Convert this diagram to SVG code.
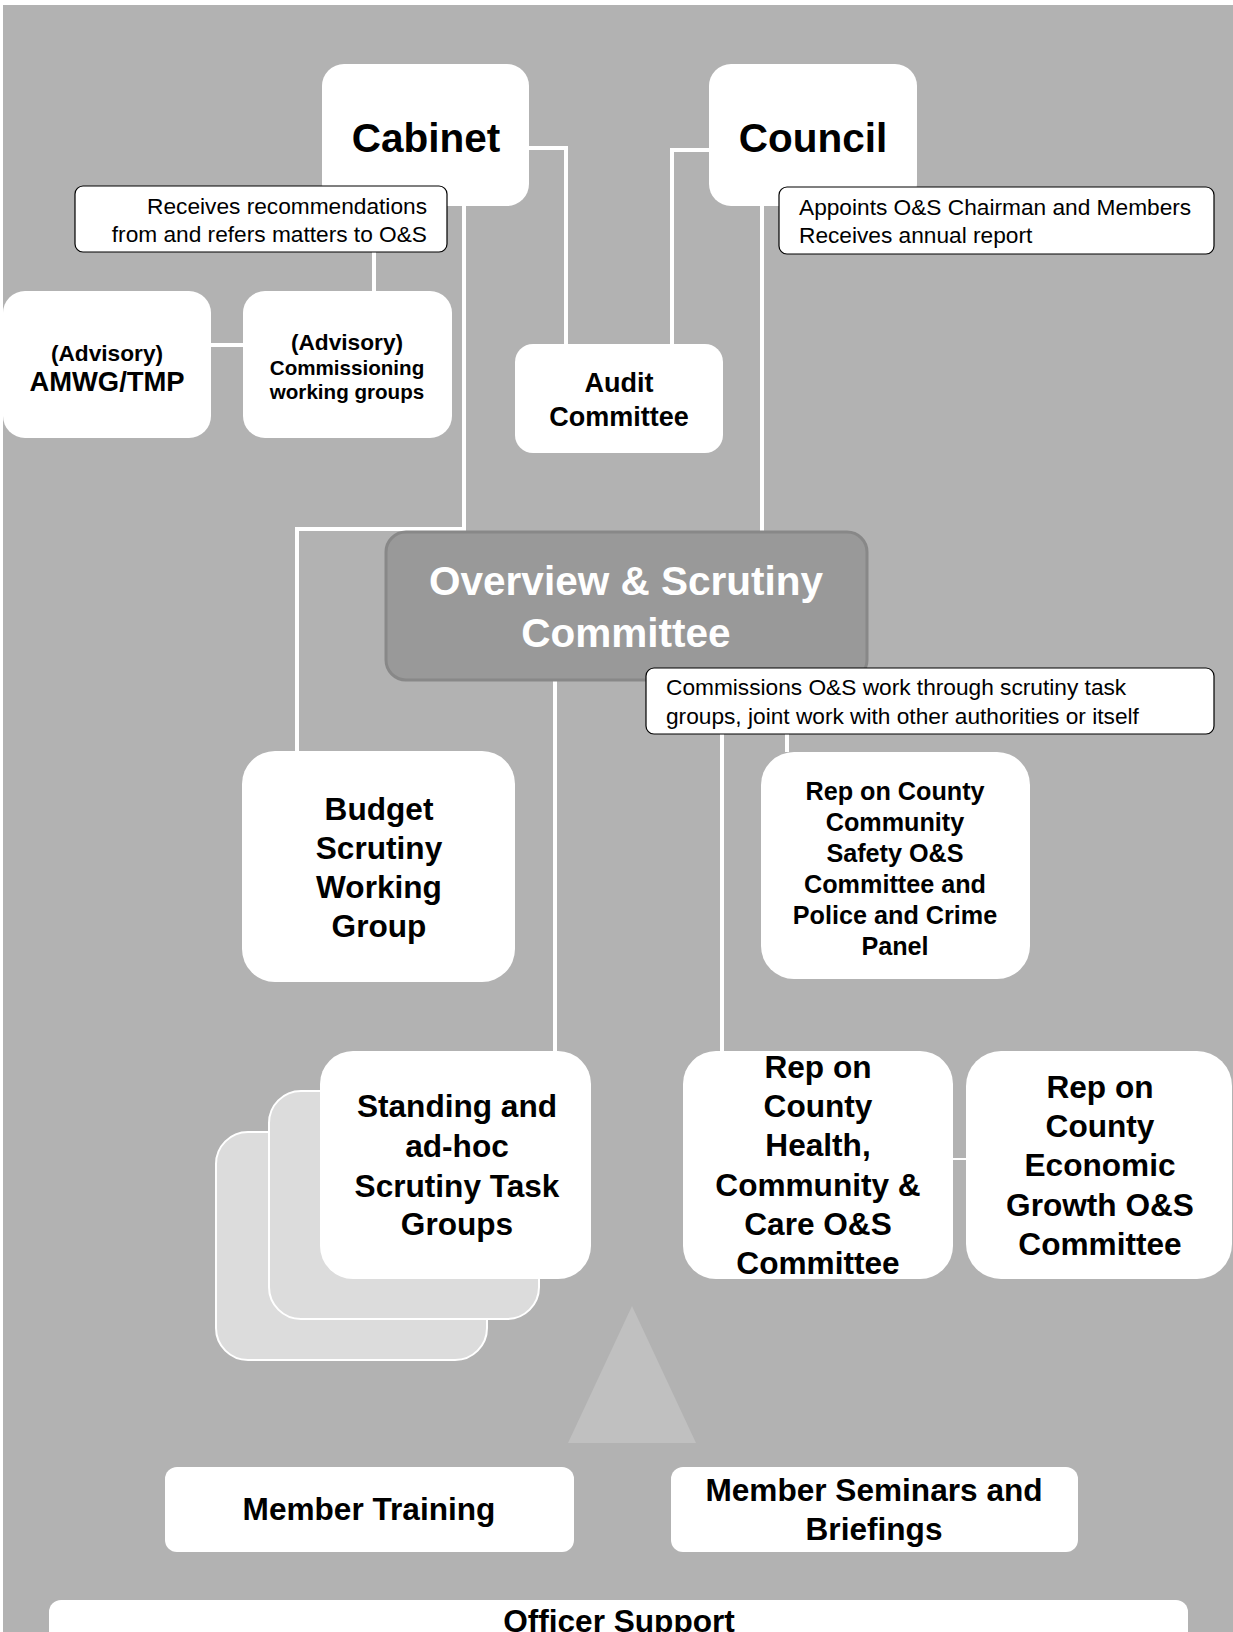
<svg xmlns="http://www.w3.org/2000/svg" width="1233" height="1632" viewBox="0 0 1233 1632">
<defs>
<style>
.bg{fill:#b2b2b2}
.box{fill:#fff}
.t{font-family:"Liberation Sans",Arial,sans-serif;font-weight:bold;fill:#000;text-anchor:middle}
.c{font-family:"Liberation Sans",Arial,sans-serif;font-size:22.7px;fill:#000}
.call{fill:#fff;stroke:#000;stroke-width:1.2}
.conn path{fill:none;stroke:#fff;stroke-width:4}
.card{fill:#dcdcdc;stroke:#fff;stroke-width:2}
</style>
</defs>
<rect width="1233" height="1632" fill="#fff"/>
<rect class="bg" x="3" y="5" width="1230" height="1627"/>
<polygon id="triangle" points="632,1306 696,1443 568,1443" fill="#c0c0c0"/>
<g id="connectors" class="conn">
<path d="M464,206 V529 H297 V751"/>
<path d="M529,148 H566 V344"/>
<path d="M709,150 H672 V344"/>
<path d="M762,206 V532"/>
<path d="M374,252 V291"/>
<path d="M211,345 H243"/>
<path d="M555,680 V1051"/>
<path d="M722,734 V1051"/>
<path d="M787,734 V752"/>
<path d="M953,1159 H966" style="stroke-width:2"/>
</g>
<g id="cabinet">
<rect class="box" x="322" y="64" width="207" height="142" rx="22"/>
<text class="t" x="426" y="152" font-size="40.5">Cabinet</text>
</g>
<g id="council">
<rect class="box" x="709" y="64" width="208" height="142" rx="22"/>
<text class="t" x="813" y="152" font-size="40.5">Council</text>
</g>
<g id="amwg">
<rect class="box" x="3" y="291" width="208" height="147" rx="22"/>
<text class="t" x="107" y="361" font-size="22.7">(Advisory)</text>
<text class="t" x="107" y="391" font-size="27.4">AMWG/TMP</text>
</g>
<g id="commissioning">
<rect class="box" x="243" y="291" width="209" height="147" rx="22"/>
<text class="t" x="347" y="350" font-size="22.7">(Advisory)</text>
<text class="t" x="347" y="375" font-size="20.6">Commissioning</text>
<text class="t" x="347" y="399" font-size="20.6">working groups</text>
</g>
<g id="audit">
<rect class="box" x="515" y="344" width="208" height="109" rx="18"/>
<text class="t" x="619" y="392" font-size="27">Audit</text>
<text class="t" x="619" y="426" font-size="27">Committee</text>
</g>
<g id="os">
<rect x="386" y="532" width="481" height="148" rx="20" fill="#999" stroke="#888" stroke-width="3"/>
<text class="t" x="626" y="595" font-size="40.5" style="fill:#fff">Overview &amp; Scrutiny</text>
<text class="t" x="626" y="647" font-size="40.5" style="fill:#fff">Committee</text>
</g>
<g id="budget">
<rect class="box" x="242" y="751" width="273" height="231" rx="33"/>
<text class="t" x="379" y="820" font-size="31.6">Budget</text>
<text class="t" x="379" y="859" font-size="31.6">Scrutiny</text>
<text class="t" x="379" y="898" font-size="31.6">Working</text>
<text class="t" x="379" y="937" font-size="31.6">Group</text>
</g>
<g id="safety">
<rect class="box" x="761" y="752" width="269" height="227" rx="33"/>
<text class="t" x="895" y="800" font-size="25.2">Rep on County</text>
<text class="t" x="895" y="831" font-size="25.2">Community</text>
<text class="t" x="895" y="862" font-size="25.2">Safety O&amp;S</text>
<text class="t" x="895" y="893" font-size="25.2">Committee and</text>
<text class="t" x="895" y="924" font-size="25.2">Police and Crime</text>
<text class="t" x="895" y="955" font-size="25.2">Panel</text>
</g>
<g id="standing">
<rect class="card" x="216" y="1132" width="271" height="228" rx="32"/>
<rect class="card" x="269" y="1091" width="270" height="228" rx="32"/>
<rect class="box" x="320" y="1051" width="271" height="228" rx="33"/>
<text class="t" x="457" y="1117" font-size="31.6">Standing and</text>
<text class="t" x="457" y="1157" font-size="31.6">ad-hoc</text>
<text class="t" x="457" y="1197" font-size="31.6">Scrutiny Task</text>
<text class="t" x="457" y="1235" font-size="31.6">Groups</text>
</g>
<g id="health">
<rect class="box" x="683" y="1051" width="270" height="228" rx="33"/>
<text class="t" x="818" y="1078" font-size="31.6">Rep on</text>
<text class="t" x="818" y="1117" font-size="31.6">County</text>
<text class="t" x="818" y="1156" font-size="31.6">Health,</text>
<text class="t" x="818" y="1196" font-size="31.6">Community &amp;</text>
<text class="t" x="818" y="1235" font-size="31.6">Care O&amp;S</text>
<text class="t" x="818" y="1274" font-size="31.6">Committee</text>
</g>
<g id="economic">
<rect class="box" x="966" y="1051" width="266" height="228" rx="35"/>
<text class="t" x="1100" y="1098" font-size="31.6">Rep on</text>
<text class="t" x="1100" y="1137" font-size="31.6">County</text>
<text class="t" x="1100" y="1176" font-size="31.6">Economic</text>
<text class="t" x="1100" y="1216" font-size="31.6">Growth O&amp;S</text>
<text class="t" x="1100" y="1255" font-size="31.6">Committee</text>
</g>
<g id="training">
<rect class="box" x="165" y="1467" width="409" height="85" rx="12"/>
<text class="t" x="369" y="1520" font-size="31.6">Member Training</text>
</g>
<g id="seminars">
<rect class="box" x="671" y="1467" width="407" height="85" rx="12"/>
<text class="t" x="874" y="1501" font-size="31.6">Member Seminars and</text>
<text class="t" x="874" y="1540" font-size="31.6">Briefings</text>
</g>
<g id="officer">
<rect class="box" x="49" y="1600" width="1139" height="60" rx="12"/>
<text class="t" x="619" y="1632" font-size="31.6">Officer Support</text>
</g>
<g id="cabinet-note">
<rect class="call" x="75" y="186" width="372" height="66" rx="8"/>
<text class="c" x="427" y="214" text-anchor="end">Receives recommendations</text>
<text class="c" x="427" y="242" text-anchor="end">from and refers matters to O&amp;S</text>
</g>
<g id="council-note">
<rect class="call" x="779" y="187" width="435" height="67" rx="8"/>
<text class="c" x="799" y="215">Appoints O&amp;S Chairman and Members</text>
<text class="c" x="799" y="243">Receives annual report</text>
</g>
<g id="os-note">
<rect class="call" x="646" y="668" width="568" height="66" rx="8"/>
<text class="c" x="666" y="695">Commissions O&amp;S work through scrutiny task</text>
<text class="c" x="666" y="724">groups, joint work with other authorities or itself</text>
</g>
</svg>
